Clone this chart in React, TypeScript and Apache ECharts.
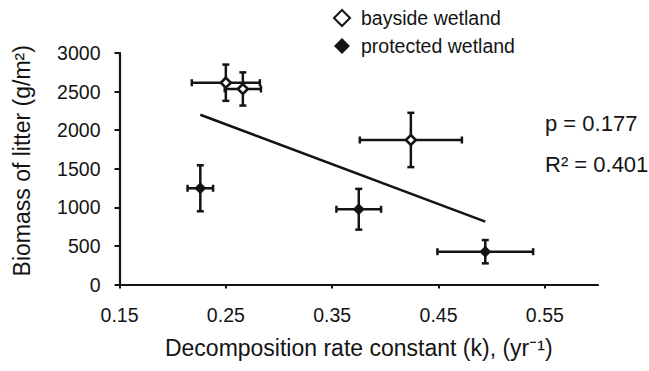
import React, { useEffect, useRef } from "react";
import * as echarts from "echarts";

// Tick labels
const xTickValues = [0.15, 0.25, 0.35, 0.45, 0.55];

// Bayside wetland (open diamonds)
const bayX = [0.25, 0.266, 0.424];
const bayY = [2615, 2534, 1873];
const bayXErr = [0.032, 0.017, 0.048];
const bayYErr = [235, 215, 352];

// Protected wetland (filled diamonds)
const protX = [0.226, 0.375, 0.494];
const protY = [1247, 975, 425];
const protXErr = [0.012, 0.021, 0.045];
const protYErr = [298, 264, 151];

// Regression line end points
const fitX = [0.226, 0.494];
const fitY = [2200, 815];

const INK = "#141414";
const FONT = "'Liberation Sans', Arial, Helvetica, sans-serif";

export default function App() {
  const ref = useRef<HTMLDivElement>(null);

  useEffect(() => {
    if (!ref.current) return;
    const chart = echarts.init(ref.current, undefined, { renderer: "svg" });

    const errData = [
      ...bayX.map((x, i) => [x, bayY[i], bayXErr[i], bayYErr[i]]),
      ...protX.map((x, i) => [x, protY[i], protXErr[i], protYErr[i]]),
    ];

    const renderErr = (params: any, api: any) => {
      const x = api.value(0);
      const y = api.value(1);
      const ex = api.value(2);
      const ey = api.value(3);
      const l = api.coord([x - ex, y]);
      const r = api.coord([x + ex, y]);
      const t = api.coord([x, y + ey]);
      const b = api.coord([x, y - ey]);
      const cap = 3.5;
      const style = { stroke: INK, lineWidth: 2.5 };
      const line = (x1: number, y1: number, x2: number, y2: number) => ({
        type: "line",
        shape: { x1, y1, x2, y2 },
        style,
      });
      return {
        type: "group",
        children: [
          line(l[0], l[1], r[0], r[1]),
          line(t[0], t[1], b[0], b[1]),
          line(l[0], l[1] - cap, l[0], l[1] + cap),
          line(r[0], r[1] - cap, r[0], r[1] + cap),
          line(t[0] - cap, t[1], t[0] + cap, t[1]),
          line(b[0] - cap, b[1], b[0] + cap, b[1]),
        ],
      };
    };

    chart.setOption({
      animation: false,
      backgroundColor: "#ffffff",
      textStyle: { fontFamily: FONT, color: INK },
      grid: { left: 119.5, right: 51, top: 53, bottom: 86.5, containLabel: false },
      legend: {
        orient: "vertical",
        left: 328,
        top: 3,
        itemWidth: 16,
        itemHeight: 16,
        itemGap: 8,
        textStyle: {
          fontSize: 19.5,
          color: INK,
          fontFamily: FONT,
          padding: [0, 0, 0, 6],
        },
        data: ["bayside wetland", "protected wetland"],
      },
      xAxis: {
        type: "value",
        min: 0.15,
        max: 0.6,
        name: "Decomposition rate constant (k), (yr\u207B\u00B9)",
        nameLocation: "middle",
        nameGap: 52,
        nameTextStyle: { fontSize: 23, color: INK, fontFamily: FONT },
        axisLine: { lineStyle: { color: INK, width: 2.2 } },
        axisTick: {
          show: true,
          length: 4,
          customValues: xTickValues,
          lineStyle: { color: INK, width: 2 },
        },
        axisLabel: {
          customValues: xTickValues,
          formatter: (v: number) => v.toFixed(2),
          fontSize: 19.5,
          color: INK,
          margin: 20,
          fontFamily: FONT,
        },
        splitLine: { show: false },
      },
      yAxis: {
        type: "value",
        min: 0,
        max: 3000,
        interval: 500,
        name: "Biomass of litter (g/m\u00B2)",
        nameLocation: "middle",
        nameGap: 86,
        nameRotate: 90,
        nameTextStyle: {
          fontSize: 23,
          color: INK,
          fontFamily: FONT,
          padding: [0, 0, 0, 16],
        },
        axisLine: { show: true, lineStyle: { color: INK, width: 2.2 } },
        axisTick: { show: true, length: 5, lineStyle: { color: INK, width: 2 } },
        axisLabel: {
          fontSize: 19.5,
          color: INK,
          margin: 19,
          fontFamily: FONT,
          formatter: (v: number) => String(v),
        },
        splitLine: { show: false },
      },
      series: [
        {
          type: "line",
          data: fitX.map((x, i) => [x, fitY[i]]),
          showSymbol: false,
          symbol: "none",
          lineStyle: { color: INK, width: 2.6 },
          z: 1,
          silent: true,
        },
        {
          type: "custom",
          data: errData,
          renderItem: renderErr,
          z: 2,
          clip: false,
          silent: true,
        },
        {
          name: "bayside wetland",
          type: "scatter",
          data: bayX.map((x, i) => [x, bayY[i]]),
          symbol: "diamond",
          symbolSize: 10,
          itemStyle: {
            color: "#ffffff",
            borderColor: INK,
            borderWidth: 2.6,
            opacity: 1,
          },
          z: 3,
        },
        {
          name: "protected wetland",
          type: "scatter",
          data: protX.map((x, i) => [x, protY[i]]),
          symbol: "diamond",
          symbolSize: 12,
          itemStyle: { color: INK, opacity: 1 },
          z: 3,
        },
      ],
      graphic: [
        {
          type: "text",
          left: 545,
          top: 112,
          style: { text: "p = 0.177", fontSize: 22, fill: INK, fontFamily: FONT },
        },
        {
          type: "text",
          left: 545,
          top: 153,
          style: { text: "R\u00B2 = 0.401", fontSize: 22, fill: INK, fontFamily: FONT },
        },
      ],
    });

    return () => chart.dispose();
  }, []);

  return (
    <div
      ref={ref}
      style={{ position: "absolute", left: 0, top: 0, width: 649, height: 371 }}
    />
  );
}
